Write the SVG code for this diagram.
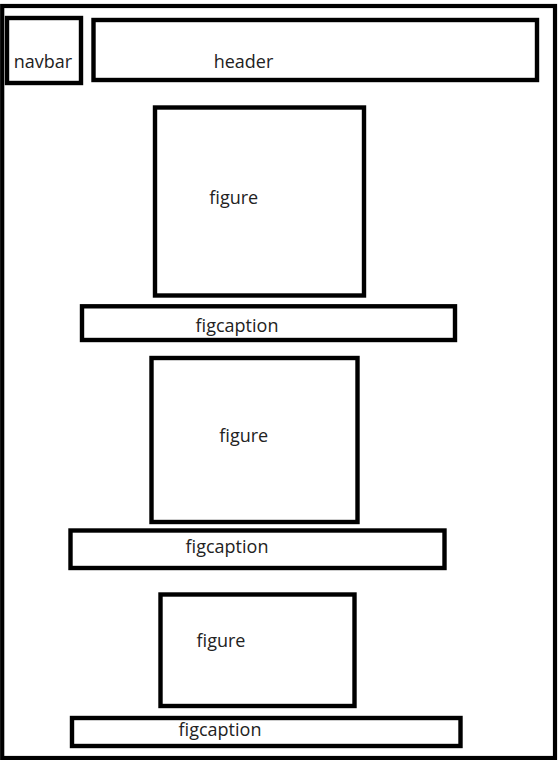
<svg xmlns="http://www.w3.org/2000/svg" width="560" height="760" viewBox="0 0 560 760">
<style>
.box{fill:none;stroke:#000;stroke-width:4.4}
.frame{fill:none;stroke:#000;stroke-width:4.2}
.lbl{font-family:"Open Sans","Liberation Sans",sans-serif;font-size:18px;fill:#222;text-anchor:middle}
</style>
<rect width="560" height="760" fill="#fff"/>
<g id="page"><rect class="frame" x="2.2" y="6" width="552.8" height="752"/></g>
<g id="navbar"><rect class="box" x="7" y="18" width="74" height="65"/><text class="lbl" x="43" y="68">navbar</text></g>
<g id="header"><rect class="box" x="93.5" y="20" width="443.5" height="60"/><text class="lbl" x="243.5" y="68">header</text></g>
<g id="figure1"><rect class="box" x="155" y="107.5" width="209" height="188"/><text class="lbl" x="233.8" y="204">figure</text></g>
<g id="figcaption1"><rect class="box" x="82" y="306.3" width="373" height="33.7"/><text class="lbl" x="237" y="332">figcaption</text></g>
<g id="figure2"><rect class="box" x="151.5" y="358" width="206" height="164"/><text class="lbl" x="243.8" y="441.7">figure</text></g>
<g id="figcaption2"><rect class="box" x="70.5" y="530.5" width="374" height="37.5"/><text class="lbl" x="227" y="553">figcaption</text></g>
<g id="figure3"><rect class="box" x="160.5" y="594.5" width="194" height="111.5"/><text class="lbl" x="221" y="647">figure</text></g>
<g id="figcaption3"><rect class="box" x="72" y="718" width="388.5" height="28"/><text class="lbl" x="220" y="736">figcaption</text></g>
<g id="connectors"></g>
</svg>
